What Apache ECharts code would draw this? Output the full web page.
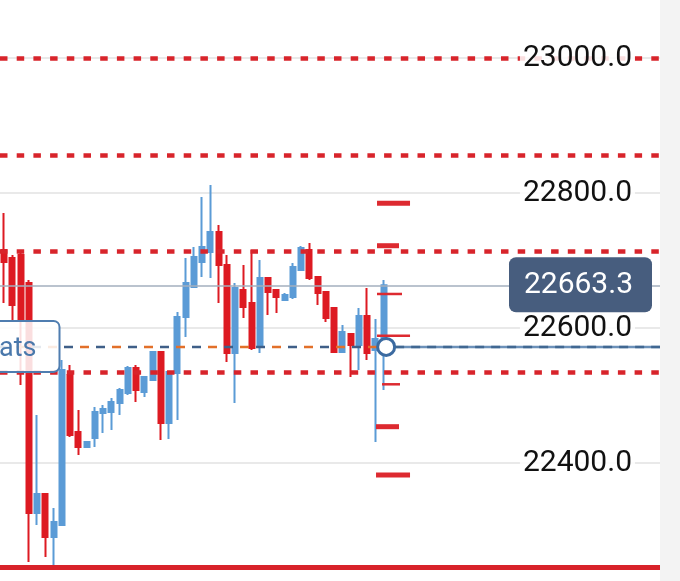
<!DOCTYPE html>
<html>
<head>
<meta charset="utf-8">
<script src="https://cdn.jsdelivr.net/npm/echarts@6/dist/echarts.min.js"></script>
<style>
html,body{margin:0;padding:0;background:#ffffff;}
#chart{width:680px;height:581px;}
</style>
</head>
<body>
<div id="chart"></div>
<script>
// ---- data ----
const categories = Array.from({length: 80}, (_, i) => String(i + 1));
const openPrice  = [22715.6,22703.7,22708.1,22666.7,22325.9,22354.1,22290.4,22308.1,22530.4,22445.9,
                    22423.7,22437.0,22474.1,22475.6,22488.9,22503.7,22540.7,22505.2,22523.0,22564.4,
                    22459.3,22533.3,22616.3,22660.7,22697.8,22712.6,22742.2,22693.3,22563.0,22656.3,
                    22637.0,22571.9,22674.1,22656.3,22641.5,22645.9,22685.9,22715.6,22675.6,22653.3,
                    22629.6,22564.4,22591.1,22574.8,22617.8,22567.4,22574.8];
const closePrice = [22697.8,22634.1,22611.9,22325.9,22354.1,22290.4,22312.6,22537.8,22441.5,22423.7,
                    22431.1,22475.6,22480.0,22490.4,22508.1,22540.7,22508.1,22527.4,22564.4,22459.3,
                    22534.8,22616.3,22666.7,22705.2,22720.0,22742.2,22693.3,22563.0,22659.3,22631.1,
                    22570.4,22674.1,22653.3,22645.9,22648.9,22690.4,22718.5,22674.1,22651.9,22614.8,
                    22564.4,22594.1,22574.8,22617.8,22563.0,22583.7,22663.3];
const lowPrice   = [22637.0,22611.9,22515.6,22253.3,22308.1,22260.7,22241.5,22308.1,22438.5,22411.9,
                    22423.7,22423.7,22444.4,22448.9,22471.1,22500.7,22490.4,22497.8,22523.0,22434.1,
                    22435.6,22463.7,22586.7,22660.7,22675.6,22674.1,22637.0,22549.6,22488.9,22614.8,
                    22567.4,22563.0,22619.3,22622.2,22641.5,22643.0,22685.9,22671.1,22634.1,22608.9,
                    22564.4,22564.4,22527.4,22537.8,22552.6,22431.1,22508.1];
const highPrice  = [22770.4,22708.1,22714.1,22671.1,22471.1,22354.1,22333.3,22552.6,22545.2,22478.5,
                    22431.1,22483.0,22485.9,22496.3,22511.1,22543.7,22545.2,22527.4,22565.9,22564.4,
                    22534.8,22623.7,22703.7,22720.0,22794.1,22811.9,22752.6,22708.1,22666.7,22693.3,
                    22715.6,22700.7,22674.1,22656.3,22651.9,22696.3,22721.5,22725.9,22675.6,22653.3,
                    22629.6,22604.4,22591.1,22629.6,22659.3,22613.3,22671.1];
const dottedLevels = [23000.0, 22856.0, 22713.0, 22534.0];
const stopLevel = 22245.0;
const lastPrice = 22663.3;
const avgPrice = 22572.0;
const depthLevels = [22784.7, 22721.9, 22650.4, 22588.6, 22516.6, 22453.8, 22382.2];
const lastIndex = 46;

// ---- styles (not data) ----
const RED = '#dd1a22', BLUE = '#5b9bd6', DOT_RED = '#d8242b';
const depthStyle = [
  {x0:-6.6, x1:26.4, w:5}, {x0:-6.6, x1:15.4, w:5}, {x0:-6.6, x1:18.4, w:2.5},
  {x0:-6.6, x1:26.4, w:2.5}, {x0:-1.6, x1:16.4, w:2.5}, {x0:-7.6, x1:15.4, w:5},
  {x0:-7.6, x1:26.4, w:5}
];

const candleData = openPrice.map((o, i) => [o, closePrice[i], lowPrice[i], highPrice[i]]);

const chart = echarts.init(document.getElementById('chart'), null, {renderer: 'canvas'});

const markLineData = dottedLevels.map(v => ({
  yAxis: v, lineStyle: {color: DOT_RED, width: 4.5, type: [7.5, 9.2]}
}));
markLineData.push({yAxis: stopLevel, lineStyle: {color: '#d8222a', width: 5, type: 'solid'}});
markLineData.push({yAxis: lastPrice, lineStyle: {color: '#a3afbe', width: 1.5, type: 'solid'}});

const option = {
  animation: false,
  backgroundColor: '#ffffff',
  graphic: [{
    type: 'rect', left: 660, top: 0, z: 100,
    shape: {width: 20, height: 581}, style: {fill: '#f3f3f3'}
  }],
  grid: {left: 0, right: 20, top: -77, height: 675, containLabel: false, outerBoundsMode: 'none'},
  xAxis: {
    type: 'category', data: categories, boundaryGap: true,
    axisLine: {show: false}, axisTick: {show: false}, axisLabel: {show: false}, splitLine: {show: false}
  },
  yAxis: [
    {
      type: 'value', min: 22200, max: 23200, interval: 200, position: 'right', z: 0,
      axisLine: {show: false}, axisTick: {show: false}, axisLabel: {show: false},
      splitLine: {show: true, lineStyle: {color: '#e9e9e9', width: 2}}
    },
    {
      type: 'value', min: 22200, max: 23200, interval: 200, position: 'right', z: 20,
      axisLine: {show: false}, axisTick: {show: false}, splitLine: {show: false},
      axisLabel: {
        inside: true, margin: 25, formatter: v => v.toFixed(1),
        color: '#111111', fontSize: 30, fontFamily: 'Roboto',
        backgroundColor: 'rgba(255,255,255,0.85)', padding: [0, 3, 0, 3]
      }
    }
  ],
  series: [
    {
      type: 'candlestick', name: 'price', data: candleData, barWidth: 5.6, z: 2,
      itemStyle: {color: BLUE, color0: RED, borderColor: BLUE, borderColor0: RED, borderWidth: 2},
      markLine: {silent: true, symbol: ['none', 'none'], z: 5, label: {show: false}, data: markLineData}
    },
    {
      type: 'custom', name: 'depth', z: 6, silent: true,
      data: depthLevels.map((v, i) => [lastIndex, v, i]),
      renderItem: (params, api) => {
        const p = api.coord([api.value(0), api.value(1)]);
        const s = depthStyle[api.value(2)];
        return {type: 'line', shape: {x1: p[0] + s.x0, y1: p[1], x2: p[0] + s.x1, y2: p[1]},
                style: {stroke: '#dd2a30', lineWidth: s.w}};
      }
    },
    {
      type: 'custom', name: 'avg', z: 7, silent: true,
      data: [[lastIndex, avgPrice]],
      renderItem: (params, api) => {
        const p = api.coord([api.value(0), api.value(1)]);
        const cs = params.coordSys;
        const L = cs.x, R = cs.x + cs.width;
        const mx = p[0] + 2.5, my = p[1];
        return {type: 'group', children: [
          {type: 'line', shape: {x1: L, y1: my, x2: mx - 9, y2: my},
           style: {stroke: '#3f5f88', lineWidth: 2.5, lineDash: [9, 23], lineDashOffset: 0}},
          {type: 'line', shape: {x1: L, y1: my, x2: mx - 9, y2: my},
           style: {stroke: '#e2702a', lineWidth: 2.5, lineDash: [9, 23], lineDashOffset: -16}},
          {type: 'line', shape: {x1: mx + 9, y1: my, x2: R, y2: my},
           style: {stroke: '#6c91b9', lineWidth: 2.5}},
          {type: 'line', shape: {x1: mx + 9, y1: my, x2: R, y2: my},
           style: {stroke: '#416892', lineWidth: 2.5, lineDash: [9, 7]}},
          {type: 'rect', shape: {x: L - 12, y: my - 26, width: 71.5, height: 51, r: 6},
           style: {fill: 'rgba(255,255,255,0.86)', stroke: '#4f7db0', lineWidth: 2}},
          {type: 'text', style: {text: 'ats', x: L - 1, y: my + 2, fontSize: 27, fontFamily: 'Roboto',
           fill: '#4a78ab', align: 'left', verticalAlign: 'middle'}},
          {type: 'circle', shape: {cx: mx, cy: my, r: 8.5},
           style: {fill: '#ffffff', stroke: '#3b6aa0', lineWidth: 3}}
        ]};
      }
    },
    {
      type: 'custom', name: 'last', z: 8, silent: true,
      data: [[lastIndex, lastPrice]],
      renderItem: (params, api) => {
        const p = api.coord([api.value(0), api.value(1)]);
        const cs = params.coordSys;
        const R = cs.x + cs.width;
        return {type: 'group', children: [
          {type: 'rect', shape: {x: R - 151, y: p[1] - 28, width: 143, height: 55, r: 7},
           style: {fill: '#475d7e'}},
          {type: 'text', style: {text: api.value(1).toFixed(1), x: R - 27, y: p[1], fontSize: 30,
           fontFamily: 'Roboto', fill: '#ffffff', align: 'right', verticalAlign: 'middle'}}
        ]};
      }
    }
  ]
};
chart.setOption(option);
</script>
</body>
</html>
